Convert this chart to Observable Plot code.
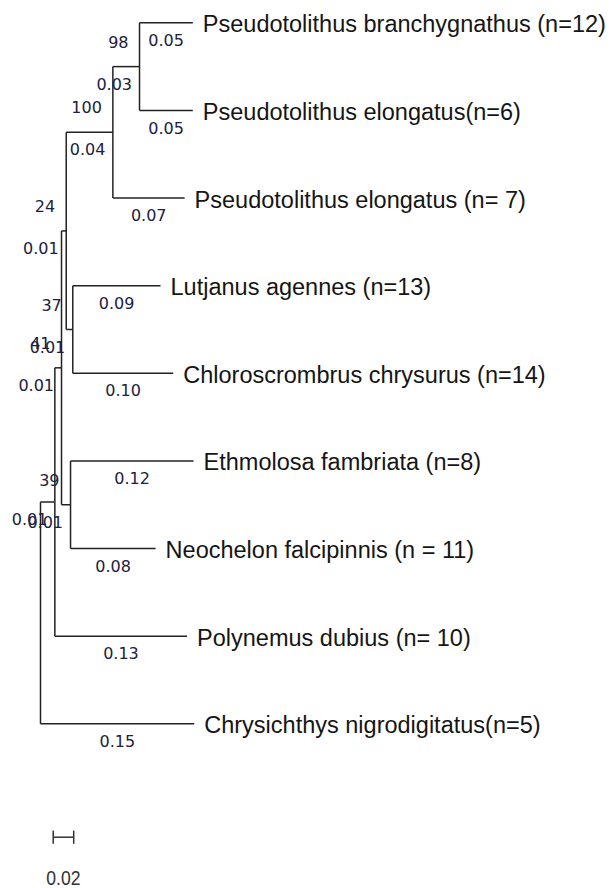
<!DOCTYPE html>
<html><head><meta charset="utf-8">
<script src="https://cdn.jsdelivr.net/npm/d3@7"></script>
<script src="https://cdn.jsdelivr.net/npm/@observablehq/plot@0.6"></script>
<style>html,body{margin:0;padding:0;background:#fff}#chart svg{display:block;overflow:visible}</style>
</head><body><div id="chart"></div>
<script>
// ---- Leaves (top to bottom) ----
const leafNames = [
  "Pseudotolithus branchygnathus (n=12)",
  "Pseudotolithus elongatus(n=6)",
  "Pseudotolithus elongatus (n= 7)",
  "Lutjanus agennes (n=13)",
  "Chloroscrombrus chrysurus (n=14)",
  "Ethmolosa fambriata (n=8)",
  "Neochelon falcipinnis (n = 11)",
  "Polynemus dubius (n= 10)",
  "Chrysichthys nigrodigitatus(n=5)"
];
const leafParents = ["A", "A", "B", "E", "E", "F", "F", "H", "root"];
const leafLengths = [0.052, 0.052, 0.070, 0.0856, 0.098, 0.120, 0.083, 0.129, 0.150];
const leafLengthLabels = ["0.05", "0.05", "0.07", "0.09", "0.10", "0.12", "0.08", "0.13", "0.15"];

// ---- Internal nodes ----
const nodeIds      = ["A", "B", "C", "E", "F", "G", "H", "root"];
const nodeParents  = ["B", "C", "G", "C", "G", "H", "root", null];
const nodeLengths  = [0.026, 0.0455, 0.0046, 0.0064, 0.0088, 0.0065, 0.014, 0];
const nodeLengthLabels = ["0.03", "0.04", "0.01", "0.01", "0.01", "0.01", "0.01", null];
const bootstrap    = ["98", "100", "24", "37", "39", "41", null, null];

// ---- Scale bar ----
const scaleBarLength = 0.02;
const scaleBarLabel = "0.02";

// ---- Build tree geometry ----
const nodes = new Map();
nodeIds.forEach((id, i) => nodes.set(id, {id, parent: nodeParents[i], length: nodeLengths[i],
  lengthLabel: nodeLengthLabels[i], support: bootstrap[i], children: [], leaf: false}));
leafNames.forEach((name, i) => nodes.set(name, {id: name, name, parent: leafParents[i], length: leafLengths[i],
  lengthLabel: leafLengthLabels[i], children: [], leaf: true, y: i}));
for (const n of nodes.values()) if (n.parent) nodes.get(n.parent).children.push(n);
function setDepth(n, d) { n.x = d; n.children.forEach(c => setDepth(c, d + c.length)); }
function setY(n) { if (n.leaf) return n.y; const ys = n.children.map(setY); n.y = d3.mean(ys); n.y1 = d3.min(ys); n.y2 = d3.max(ys); return n.y; }
const root = nodes.get("root");
setDepth(root, 0); setY(root);
const all = [...nodes.values()];
const branches = all.filter(n => n.parent).map(n => ({...n, px: nodes.get(n.parent).x}));
const internals = all.filter(n => !n.leaf);
const leaves = branches.filter(n => n.leaf);
const innerBranches = branches.filter(n => !n.leaf);

const sbStart = 0.0124, sbRow = 9.294;
const scaleBar = [{x1: sbStart, x2: sbStart + scaleBarLength, y: sbRow, label: scaleBarLabel}];

const numFont = "DejaVu Sans, Verdana, sans-serif";
const numColor = "#20203e";
const lineColor = "#222";

const chart = Plot.plot({
  width: 611, height: 888, margin: 0,
  style: {background: "#fff", overflow: "visible"},
  x: {domain: [0, 0.15], range: [40, 193.75], axis: null},
  y: {domain: [0, 8], range: [22.3, 723.3], axis: null},
  marks: [
    Plot.link(branches, {x1: "px", x2: "x", y1: "y", y2: "y", stroke: lineColor, strokeWidth: 1.5}),
    Plot.link(internals, {x1: "x", x2: "x", y1: "y1", y2: "y2", stroke: lineColor, strokeWidth: 1.5}),
    Plot.text(leaves, {x: "x", y: "y", text: "name", textAnchor: "start", dx: 10, dy: 2,
      fontSize: 23.5, fontFamily: "Liberation Sans, Arial, sans-serif", fill: "#151515"}),
    Plot.text(leaves, {x: d => (d.px + d.x) / 2, y: "y", text: "lengthLabel", dy: 18,
      fontSize: 16, fontFamily: numFont, fill: numColor}),
    Plot.text(innerBranches, {x: "x", y: "y", text: "lengthLabel", textAnchor: "end", dx: -7.5, dy: 18,
      fontSize: 16, fontFamily: numFont, fill: numColor}),
    Plot.text(internals.filter(d => d.support), {x: "x", y: "y", text: "support", textAnchor: "end", dx: -11, dy: -24,
      fontSize: 16, fontFamily: numFont, fill: numColor}),
    Plot.link(scaleBar, {x1: "x1", x2: "x2", y1: "y", y2: "y", stroke: "#333", strokeWidth: 1.5}),
    Plot.link(scaleBar, {x1: "x1", x2: "x1", y1: d => d.y - 0.076, y2: d => d.y + 0.076, stroke: "#333", strokeWidth: 1.5}),
    Plot.link(scaleBar, {x1: "x2", x2: "x2", y1: d => d.y - 0.076, y2: d => d.y + 0.076, stroke: "#333", strokeWidth: 1.5}),
    Plot.text(scaleBar, {x: d => (d.x1 + d.x2) / 2, y: "y", text: "label", dy: 41.5,
      fontSize: 21, fontFamily: "Liberation Sans Narrow, Arial Narrow, Liberation Sans, Arial, sans-serif", fill: "#333"})
  ]
});
// condense the scale-bar label horizontally (narrow face not installed)
for (const t of chart.querySelectorAll("text")) {
  if (t.textContent === scaleBarLabel) {
    const tr = t.getAttribute("transform") || "";
    t.setAttribute("transform", tr + " scale(0.84,1)");
  }
}
document.getElementById("chart").appendChild(chart);
</script>
</body></html>
